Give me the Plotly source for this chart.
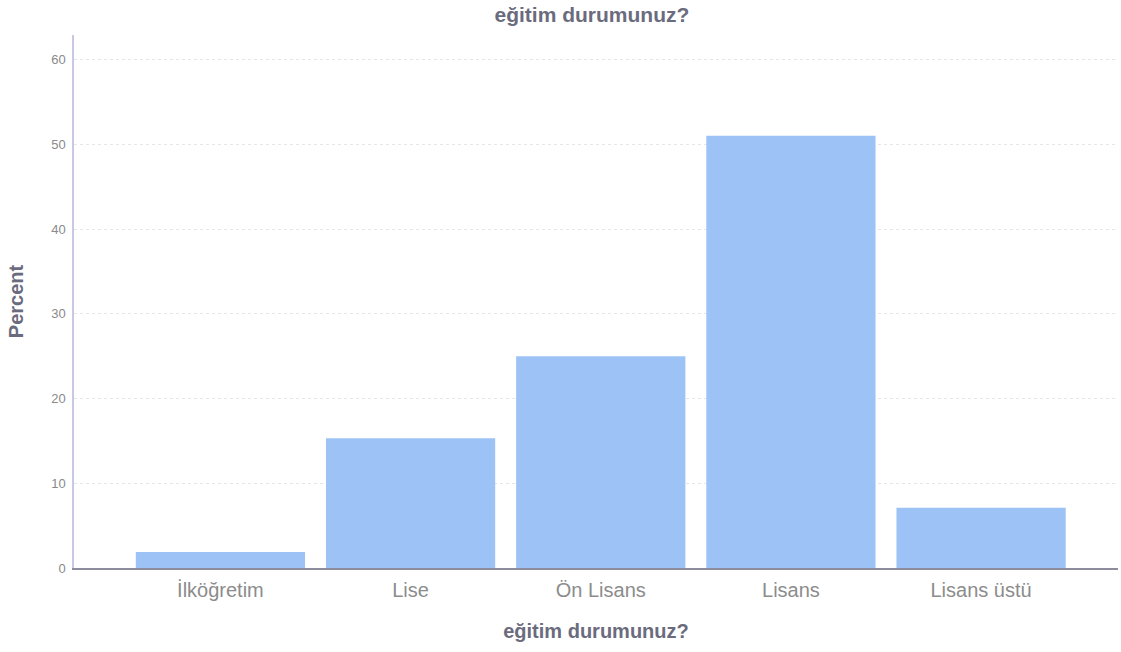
import plotly.graph_objects as go

categories = ["İlköğretim", "Lise", "Ön Lisans", "Lisans", "Lisans üstü"]
percent = [1.9, 15.3, 25.0, 51.0, 7.1]
y_ticks = [0, 10, 20, 30, 40, 50, 60]

fig = go.Figure(go.Bar(
    x=categories, y=percent,
    marker=dict(color="#9dc3f6", line=dict(width=0)),
    width=0.89,
))

fig.update_layout(
    width=1121, height=652,
    margin=dict(l=74, r=3, t=35, b=84),
    paper_bgcolor="white", plot_bgcolor="white",
    font=dict(family="Liberation Sans, Arial, sans-serif", color="#808080"),
    title=dict(text="<b>eğitim durumunuz?</b>", x=0.528, xanchor="center", y=0.977, yanchor="middle",
               font=dict(size=21, color="#6b6b7e")),
    showlegend=False,
    bargap=0.1,
)
fig.update_xaxes(
    range=[-0.77, 4.72],
    showgrid=False, showline=True, linecolor="#8c8c9c", linewidth=1.5,
    tickfont=dict(size=20, color="#8c8c8c"), ticks="", ticklabelstandoff=3,
    title=dict(text="<b>eğitim durumunuz?</b>", font=dict(size=20, color="#6b6b7e"), standoff=24),
)
fig.update_yaxes(
    range=[0, 62.9], tickvals=y_ticks,
    showgrid=True, gridcolor="#e6e6e6", griddash="dot", gridwidth=1,
    showline=True, linecolor="#c8c8e4", linewidth=1.5, zeroline=False,
    tickfont=dict(size=13, color="#8a8a8a"), ticks="", ticklabelstandoff=4,
    title=dict(text="<b>Percent</b>", font=dict(size=20, color="#6b6b7e"), standoff=22),
)

fig.write_html("out.html")
